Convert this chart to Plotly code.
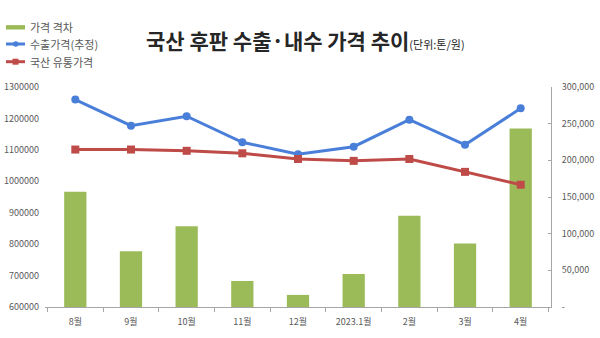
import plotly.graph_objects as go

months = ["8월", "9월", "10월", "11월", "12월", "2023.1월", "2월", "3월", "4월"]
gap = [157000, 76000, 110000, 35500, 16500, 45000, 124500, 86500, 243500]
export_price = [1260000, 1177000, 1207000, 1124000, 1086000, 1110000, 1196000, 1116000, 1232000]
domestic_price = [1101000, 1101000, 1097000, 1089000, 1071000, 1065000, 1071000, 1030000, 989000]

left_ticks = [600000, 700000, 800000, 900000, 1000000, 1100000, 1200000, 1300000]
right_ticks = [0, 50000, 100000, 150000, 200000, 250000, 300000]
right_text = ["-", "50,000", "100,000", "150,000", "200,000", "250,000", "300,000"]

FONT = "Noto Sans CJK KR"
GRAY = "#595959"
GREEN = "#9BBB59"
BLUE = "#4A7FD9"
RED = "#BE4B48"

W, H = 600, 338
L, R, T, B = 45, 49, 87, 31
PW, PH = W - L - R, H - T - B


def px(x):
    return (x - L) / PW


def py(y):
    return (H - B - y) / PH


fig = go.Figure()
fig.add_trace(go.Bar(
    x=months, y=gap, name="가격 격차", marker=dict(color=GREEN, line=dict(width=0)),
    width=0.4, yaxis="y", showlegend=False))
fig.add_trace(go.Scatter(
    x=months, y=export_price, name="수출가격(추정)", mode="lines+markers",
    line=dict(color=BLUE, width=3), marker=dict(size=8, symbol="circle", color=BLUE),
    yaxis="y2", showlegend=False))
fig.add_trace(go.Scatter(
    x=months, y=domestic_price, name="국산 유통가격", mode="lines+markers",
    line=dict(color=RED, width=3), marker=dict(size=8, symbol="square", color=RED),
    yaxis="y2", showlegend=False))

fig.update_layout(
    width=W, height=H,
    margin=dict(l=L, r=R, t=T, b=B, autoexpand=False),
    paper_bgcolor="white", plot_bgcolor="white",
    font=dict(family=FONT, size=9, color=GRAY),
    xaxis=dict(type="category", showline=True, linecolor="#A6A6A6", linewidth=1,
               ticks="outside", tickson="boundaries", ticklen=4, tickcolor="#A6A6A6",
               showgrid=False, tickfont=dict(size=9, color=GRAY), ticklabelstandoff=6,
               automargin=False),
    yaxis=dict(side="right", range=[0, 300000], tickvals=right_ticks, ticktext=right_text,
               showgrid=False, zeroline=False, showline=True, linecolor="#A6A6A6",
               ticks="inside", ticklen=3, tickcolor="#A6A6A6", ticklabelstandoff=8,
               tickfont=dict(size=9, color=GRAY), automargin=False),
    yaxis2=dict(overlaying="y", side="left", range=[600000, 1300000], tickvals=left_ticks,
                ticktext=[str(v) for v in left_ticks], showgrid=False, zeroline=False,
                showline=False, ticks="", tickfont=dict(size=9, color=GRAY),
                ticklabelstandoff=5, automargin=False),
    bargap=0.6,
)

# manual legend
rows = [27.3, 44.0, 61.7]
labels = ["가격 격차", "수출가격(추정)", "국산 유통가격"]
shapes = []
shapes.append(dict(type="rect", xref="paper", yref="paper",
                   x0=px(6), x1=px(25), y0=py(rows[0] + 2.2), y1=py(rows[0] - 2.2),
                   fillcolor=GREEN, line=dict(width=0)))
shapes.append(dict(type="line", xref="paper", yref="paper",
                   x0=px(6), x1=px(25), y0=py(rows[1]), y1=py(rows[1]),
                   line=dict(color=BLUE, width=3)))
shapes.append(dict(type="circle", xref="paper", yref="paper",
                   x0=px(13), x1=px(18.5), y0=py(rows[1] + 2.75), y1=py(rows[1] - 2.75),
                   fillcolor=BLUE, line=dict(width=0)))
shapes.append(dict(type="line", xref="paper", yref="paper",
                   x0=px(6), x1=px(25), y0=py(rows[2]), y1=py(rows[2]),
                   line=dict(color=RED, width=3)))
shapes.append(dict(type="rect", xref="paper", yref="paper",
                   x0=px(12.5), x1=px(18.5), y0=py(rows[2] + 3), y1=py(rows[2] - 3),
                   fillcolor=RED, line=dict(width=0)))
fig.update_layout(shapes=shapes)

for yy, lab in zip(rows, labels):
    fig.add_annotation(text=lab, xref="paper", yref="paper", x=px(28), y=py(yy),
                       xanchor="left", yanchor="middle", showarrow=False,
                       font=dict(family=FONT, size=11, color=GRAY))

fig.add_annotation(
    text="<b>국산 후판 수출·내수 가격 추이</b><span style='font-size:11px'>(단위:톤/원)</span>",
    xref="paper", yref="paper", x=px(144), y=py(40), xanchor="left", yanchor="middle",
    showarrow=False, font=dict(family=FONT, size=21, color="#262626"))

fig.write_html("out.html")
